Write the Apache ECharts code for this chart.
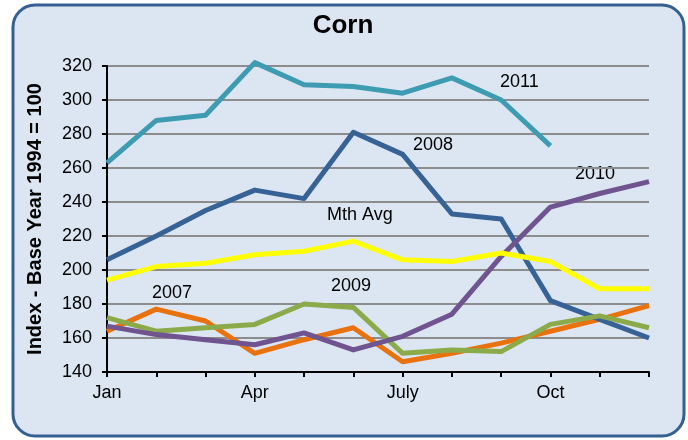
<!DOCTYPE html>
<html>
<head>
<meta charset="utf-8">
<script src="https://cdn.jsdelivr.net/npm/echarts@6/dist/echarts.min.js"></script>
<style>
html,body{margin:0;padding:0;background:#fff;}
#c{width:688px;height:440px;}
</style>
</head>
<body>
<div id="c"></div>
<script>
var months = ['Jan','Feb','Mar','Apr','May','Jun','July','Aug','Sep','Oct','Nov','Dec'];
var yTicks = [140, 320, 20];
var s2007 = [164, 177, 170, 151, 159, 166, 146, 151, 157, 164, 171, 179];
var s2008 = [206, 220, 235, 247, 242, 281, 268, 233, 230, 182, 171, 160];
var s2009 = [172, 164, 166, 168, 180, 178, 151, 153, 152, 168, 173, 166];
var s2010 = [167, 162, 159, 156, 163, 153, 161, 174, 208, 237, 245, 252];
var s2011 = [263, 288, 291, 322, 309, 308, 304, 313, 300, 273, null, null];
var mthAvg = [194, 202, 204, 209, 211, 217, 206, 205, 210, 205, 189, 189];

var FONT = '"Liberation Sans", Arial, sans-serif';
function line(name, data, color) {
  return {
    name: name, type: 'line', data: data, symbol: 'none', clip: false,
    lineStyle: {color: color, width: 5, join: 'round'},
    connectNulls: false, animation: false
  };
}
var chart = echarts.init(document.getElementById('c'), null, {renderer: 'canvas'});
chart.setOption({
  backgroundColor: '#ffffff',
  animation: false,
  title: {
    text: 'Corn', left: 338, top: 8, textAlign: 'center',
    textStyle: {fontFamily: FONT, fontWeight: 'bold', fontSize: 26, color: '#000'}
  },
  grid: {left: 107, right: 39, top: 66, bottom: 68, containLabel: false},
  xAxis: {
    type: 'category', data: months, boundaryGap: false,
    axisLine: {lineStyle: {color: '#000', width: 2}},
    axisTick: {show: true, interval: 0, length: 5, lineStyle: {color: '#000', width: 2}},
    axisLabel: {interval: 2, margin: 12, color: '#000', fontFamily: FONT, fontSize: 18},
    splitLine: {show: false}
  },
  yAxis: {
    type: 'value', min: yTicks[0], max: yTicks[1], interval: yTicks[2],
    name: 'Index - Base Year 1994 = 100', nameLocation: 'middle', nameGap: 62,
    nameTextStyle: {fontFamily: FONT, fontWeight: 'bold', fontSize: 20, color: '#000'},
    axisLine: {show: true, lineStyle: {color: '#000', width: 2}},
    axisTick: {show: true, length: 5, lineStyle: {color: '#000', width: 2}},
    axisLabel: {margin: 15, color: '#000', fontFamily: FONT, fontSize: 18},
    splitLine: {show: true, lineStyle: {color: '#8c8c8c', width: 2}}
  },
  graphic: [
    {type: 'rect', z: -10, silent: true,
     shape: {x: 13, y: 5, width: 671, height: 431, r: 22},
     style: {fill: '#dce6f2', stroke: '#355f91', lineWidth: 3}},
    {type: 'text', left: 500, top: 73, style: {text: '2011', font: '18px ' + FONT, fill: '#000'}},
    {type: 'text', left: 413, top: 136, style: {text: '2008', font: '18px ' + FONT, fill: '#000'}},
    {type: 'text', left: 575, top: 165, style: {text: '2010', font: '18px ' + FONT, fill: '#000'}},
    {type: 'text', left: 327, top: 206, style: {text: 'Mth Avg', font: '18px ' + FONT, fill: '#000'}},
    {type: 'text', left: 152, top: 284, style: {text: '2007', font: '18px ' + FONT, fill: '#000'}},
    {type: 'text', left: 331, top: 277, style: {text: '2009', font: '18px ' + FONT, fill: '#000'}}
  ],
  series: [
    line('2007', s2007, '#e9720f'),
    line('2008', s2008, '#376296'),
    line('2009', s2009, '#8bab4a'),
    line('2010', s2010, '#6f5490'),
    line('2011', s2011, '#3d9bb2'),
    line('Mth Avg', mthAvg, '#ffff00')
  ]
});
</script>
</body>
</html>
